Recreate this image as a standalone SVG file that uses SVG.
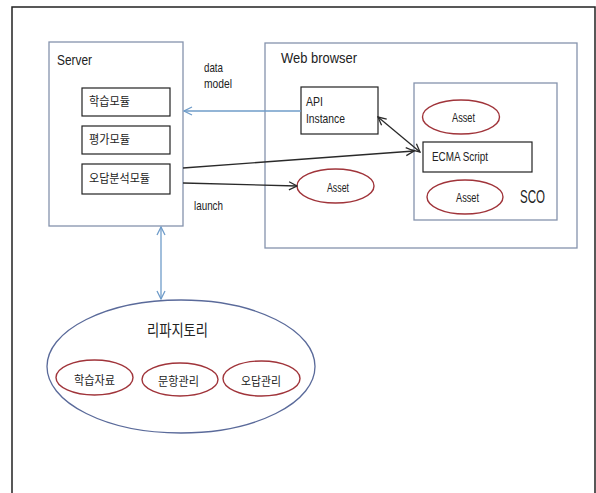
<svg xmlns="http://www.w3.org/2000/svg" width="596" height="493" viewBox="0 0 596 493">
<defs>
<style>
text{font-family:"Noto Sans CJK KR","Noto Sans",sans-serif;fill:#222}
.lat{font-family:"Liberation Sans",Arial,sans-serif}
.frame{fill:none;stroke:#8593ad;stroke-width:1.3}
.box{fill:#fff;stroke:#222;stroke-width:1.2}
.asset{fill:#fff;stroke:#a0343a;stroke-width:1.4}
.blue{stroke:#6f9cc9;stroke-width:1.3;fill:none}
.dark{stroke:#2a2a2a;stroke-width:1.3;fill:none}
.t12{font-size:13px}
.t11{font-size:12px}
</style>
<marker id="ab" viewBox="0 0 10 10" refX="9" refY="5" markerWidth="10" markerHeight="10" markerUnits="userSpaceOnUse" orient="auto-start-reverse">
<path d="M1,1 L9,5 L1,9" fill="none" stroke="#6f9cc9" stroke-width="1.3"/>
</marker>
<marker id="ak" viewBox="0 0 10 10" refX="9" refY="5" markerWidth="10" markerHeight="10" markerUnits="userSpaceOnUse" orient="auto-start-reverse">
<path d="M1,1 L9,5 L1,9" fill="none" stroke="#2a2a2a" stroke-width="1.3"/>
</marker>
</defs>
<rect width="596" height="493" fill="#fff"/>
<path d="M12,493 V7 H595 V493" fill="none" stroke="#222" stroke-width="1.5"/>

<g id="server">
<rect class="frame" x="49" y="42" width="134" height="184"/>
<text class="lat" x="57" y="65" font-size="15" textLength="35" lengthAdjust="spacingAndGlyphs">Server</text>
</g>
<g id="mod1">
<rect class="box" x="82" y="88" width="88" height="28"/>
<text class="t11" x="89" y="106" textLength="41" lengthAdjust="spacingAndGlyphs">학습모듈</text>
</g>
<g id="mod2">
<rect class="box" x="82" y="126" width="88" height="28"/>
<text class="t11" x="89" y="144" textLength="41" lengthAdjust="spacingAndGlyphs">평가모듈</text>
</g>
<g id="mod3">
<rect class="box" x="82" y="164" width="88" height="30"/>
<text class="t11" x="89" y="183" textLength="61" lengthAdjust="spacingAndGlyphs">오답분석모듈</text>
</g>

<g id="browser">
<rect class="frame" x="265" y="43" width="312" height="205"/>
<text class="lat" x="281" y="63" font-size="15" textLength="76" lengthAdjust="spacingAndGlyphs">Web browser</text>
</g>
<g id="api">
<rect class="box" x="301" y="87" width="77" height="47"/>
<text class="lat t12" x="306" y="106" textLength="17" lengthAdjust="spacingAndGlyphs">API</text>
<text class="lat t12" x="306" y="123" textLength="39" lengthAdjust="spacingAndGlyphs">Instance</text>
</g>
<g id="sco">
<rect class="frame" x="414" y="83" width="143" height="137"/>
<text class="lat" x="520" y="203" font-size="18" textLength="25" lengthAdjust="spacingAndGlyphs">SCO</text>
</g>
<g id="asset1">
<ellipse class="asset" cx="461" cy="117" rx="38.5" ry="17"/>
<text class="lat t12" x="452" y="122" textLength="23" lengthAdjust="spacingAndGlyphs">Asset</text>
</g>
<g id="ecma">
<rect class="box" x="423" y="142" width="109" height="30"/>
<text class="lat t12" x="432" y="161" textLength="56" lengthAdjust="spacingAndGlyphs">ECMA Script</text>
</g>
<g id="asset2">
<ellipse class="asset" cx="465" cy="197" rx="38" ry="17"/>
<text class="lat t12" x="456" y="202" textLength="23" lengthAdjust="spacingAndGlyphs">Asset</text>
</g>
<g id="asset3">
<ellipse class="asset" cx="335.5" cy="186" rx="38.5" ry="17"/>
<text class="lat t12" x="327" y="192" textLength="22" lengthAdjust="spacingAndGlyphs">Asset</text>
</g>

<g id="repository">
<ellipse cx="181" cy="366.5" rx="134" ry="66.5" fill="#fff" stroke="#5a6a9a" stroke-width="1.3"/>
<text x="147" y="336" font-size="16" textLength="61" lengthAdjust="spacingAndGlyphs">리파지토리</text>
</g>
<g id="rep1">
<ellipse class="asset" cx="94.5" cy="377.5" rx="38.5" ry="17.5"/>
<text class="t11" x="74" y="385" textLength="41" lengthAdjust="spacingAndGlyphs">학습자료</text>
</g>
<g id="rep2">
<ellipse class="asset" cx="180" cy="379.5" rx="38" ry="16.5"/>
<text class="t11" x="158" y="386" textLength="41" lengthAdjust="spacingAndGlyphs">문항관리</text>
</g>
<g id="rep3">
<ellipse class="asset" cx="261.5" cy="378.5" rx="38.5" ry="17.5"/>
<text class="t11" x="241" y="386" textLength="40" lengthAdjust="spacingAndGlyphs">오답관리</text>
</g>

<g id="connectors">
<line class="blue" x1="301" y1="111" x2="184" y2="111" marker-end="url(#ab)"/>
<line class="blue" x1="161" y1="227" x2="161" y2="299" marker-start="url(#ab)" marker-end="url(#ab)"/>
<line class="dark" x1="183" y1="168" x2="414" y2="151" marker-end="url(#ak)"/>
<line class="dark" x1="183" y1="183" x2="297" y2="186" marker-end="url(#ak)"/>
<line class="dark" x1="378" y1="117" x2="420" y2="152" marker-start="url(#ak)" marker-end="url(#ak)"/>
<text class="lat t12" x="204" y="72" textLength="19" lengthAdjust="spacingAndGlyphs">data</text>
<text class="lat t12" x="204" y="88" textLength="28" lengthAdjust="spacingAndGlyphs">model</text>
<text class="lat t12" x="194" y="210" textLength="29" lengthAdjust="spacingAndGlyphs">launch</text>
</g>
</svg>
